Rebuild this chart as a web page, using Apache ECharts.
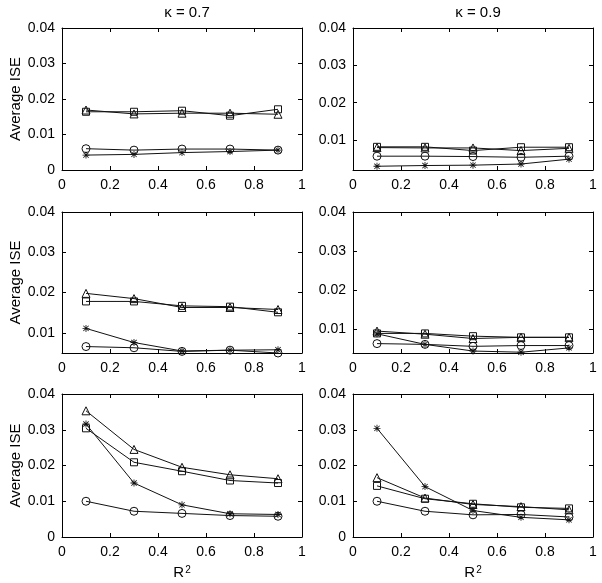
<!DOCTYPE html>
<html>
<head>
<meta charset="utf-8">
<script src="https://cdn.jsdelivr.net/npm/echarts@6/dist/echarts.min.js"></script>
<style>html,body{margin:0;padding:0;background:#fff}#c{width:602px;height:583px}</style>
</head>
<body>
<div id="c"></div>
<script>
// ---- data ----
const r2 = [0.1, 0.3, 0.5, 0.7, 0.9];
const xTicks = [0, 0.2, 0.4, 0.6, 0.8, 1];
const yTicksFull = [0, 0.01, 0.02, 0.03, 0.04];
const yTicksUpper = [0.01, 0.02, 0.03, 0.04];
const titles = ['\u03ba = 0.7', '\u03ba = 0.9'];

// row 1, kappa 0.7
const p1_triangle = [0.0169, 0.0158, 0.0160, 0.0160, 0.0157];
const p1_square   = [0.0164, 0.0164, 0.0167, 0.0153, 0.0171];
const p1_circle   = [0.0060, 0.0056, 0.0059, 0.0059, 0.0056];
const p1_star     = [0.0042, 0.0044, 0.0049, 0.0052, 0.0056];
// row 1, kappa 0.9
const p2_triangle = [0.0080, 0.0079, 0.0079, 0.0072, 0.0078];
const p2_square   = [0.0082, 0.0082, 0.0072, 0.0081, 0.0081];
const p2_circle   = [0.0057, 0.0057, 0.0056, 0.0054, 0.0057];
const p2_star     = [0.0030, 0.0032, 0.0033, 0.0036, 0.0049];
// row 2, kappa 0.7
const p3_triangle = [0.0198, 0.0185, 0.0163, 0.0163, 0.0158];
const p3_square   = [0.0178, 0.0178, 0.0167, 0.0165, 0.0151];
const p3_circle   = [0.0066, 0.0063, 0.0054, 0.0057, 0.0050];
const p3_star     = [0.0111, 0.0076, 0.0055, 0.0057, 0.0058];
// row 2, kappa 0.9
const p4_triangle = [0.0096, 0.0088, 0.0077, 0.0080, 0.0080];
const p4_square   = [0.0090, 0.0090, 0.0083, 0.0080, 0.0080];
const p4_circle   = [0.0064, 0.0062, 0.0057, 0.0059, 0.0059];
const p4_star     = [0.0089, 0.0062, 0.0045, 0.0042, 0.0053];
// row 3, kappa 0.7
const p5_triangle = [0.0353, 0.0245, 0.0195, 0.0174, 0.0163];
const p5_square   = [0.0304, 0.0209, 0.0184, 0.0158, 0.0151];
const p5_circle   = [0.0100, 0.0072, 0.0066, 0.0060, 0.0058];
const p5_star     = [0.0316, 0.0151, 0.0090, 0.0065, 0.0063];
// row 3, kappa 0.9
const p6_triangle = [0.0166, 0.0109, 0.0091, 0.0085, 0.0076];
const p6_square   = [0.0143, 0.0107, 0.0093, 0.0083, 0.0080];
const p6_circle   = [0.0100, 0.0072, 0.0062, 0.0063, 0.0056];
const p6_star     = [0.0304, 0.0141, 0.0074, 0.0055, 0.0048];

const yMins = [0, 0.002, 0.005, 0.004, 0, 0];
const yMax = 0.04;

const panels = [
  [p1_triangle, p1_square, p1_circle, p1_star],
  [p2_triangle, p2_square, p2_circle, p2_star],
  [p3_triangle, p3_square, p3_circle, p3_star],
  [p4_triangle, p4_square, p4_circle, p4_star],
  [p5_triangle, p5_square, p5_circle, p5_star],
  [p6_triangle, p6_square, p6_circle, p6_star]
];

// ---- layout ----
const FONT = '"Liberation Sans", Arial, Helvetica, sans-serif';
const colLeft = [62, 353];
const rowTop = [28, 212, 394];
const rowH = [142, 141, 143];
const W = 240;

const starPath = 'path://M0 4.4L10 4.4L10 5.6L0 5.6Z M4.4 0L5.6 0L5.6 10L4.4 10Z M0.8 1.6L1.6 0.8L9.2 8.4L8.4 9.2Z M8.4 0.8L9.2 1.6L1.6 9.2L0.8 8.4Z';
const markers = [
  {symbol: 'triangle', size: 8, star: false},
  {symbol: 'rect', size: 7, star: false},
  {symbol: 'circle', size: 8, star: false},
  {symbol: starPath, size: 7, star: true}
];

const grid = [], xAxis = [], yAxis = [], series = [];
const lineCol = '#111';
const tickStyle = {show: true, inside: true, length: 4, lineStyle: {color: '#000', width: 1}};
const axisLine = {show: true, onZero: false, lineStyle: {color: '#000', width: 1}};

panels.forEach((p, i) => {
  const row = Math.floor(i / 2), col = i % 2;
  grid.push({left: colLeft[col], top: rowTop[row], width: W, height: rowH[row]});
  const yt = yMins[i] === 0 ? yTicksFull : yTicksUpper;
  // bottom x
  xAxis.push({
    type: 'value', gridIndex: i, position: 'bottom', min: 0, max: 1, interval: 0.2,
    axisLine: axisLine, axisTick: tickStyle, splitLine: {show: false},
    axisLabel: {show: true, margin: 8, color: '#000', fontSize: 14, fontFamily: FONT,
      formatter: v => (v === 0 ? '0' : (Math.abs(v - 1) < 1e-9 ? '1' : v.toFixed(1)))},
    name: row === 2 ? 'R{s|2}' : '', nameLocation: 'middle', nameGap: 28,
    nameTextStyle: {color: '#000', fontSize: 15, fontFamily: FONT,
      rich: {s: {fontSize: 10, fontFamily: FONT, color: '#000', verticalAlign: 'top', padding: [0, 0, 6, 1]}}}
  });
  // top x (mirror)
  xAxis.push({
    type: 'value', gridIndex: i, position: 'top', min: 0, max: 1, interval: 0.2,
    axisLine: axisLine, axisTick: tickStyle, splitLine: {show: false},
    axisLabel: {show: false}
  });
  // left y
  yAxis.push({
    type: 'value', gridIndex: i, position: 'left', min: yMins[i], max: yMax,
    axisLine: axisLine,
    axisTick: Object.assign({}, tickStyle, {customValues: yt}),
    splitLine: {show: false},
    axisLabel: {show: true, customValues: yt, margin: 7, color: '#000', fontSize: 14, fontFamily: FONT,
      formatter: v => (v === 0 ? '0' : v.toFixed(2))},
    name: col === 0 ? 'Average ISE' : '', nameLocation: 'middle', nameGap: 31, nameRotate: 90,
    nameTextStyle: {color: '#000', fontSize: 15, fontFamily: FONT}
  });
  // right y (mirror)
  yAxis.push({
    type: 'value', gridIndex: i, position: 'right', min: yMins[i], max: yMax,
    axisLine: axisLine,
    axisTick: Object.assign({}, tickStyle, {customValues: yt}),
    splitLine: {show: false},
    axisLabel: {show: false}
  });
  p.forEach((vals, k) => {
    const m = markers[k];
    series.push({
      type: 'line', xAxisIndex: 2 * i, yAxisIndex: 2 * i,
      data: r2.map((x, j) => [x, vals[j]]),
      symbol: m.symbol, symbolSize: m.size, showSymbol: true,
      lineStyle: {color: lineCol, width: 1},
      itemStyle: m.star
        ? {color: '#111', borderWidth: 0}
        : {color: 'rgba(255,255,255,0)', borderColor: '#111', borderWidth: 1},
      emphasis: {disabled: true},
      animation: false, z: 3 + k
    });
  });
});

const chart = echarts.init(document.getElementById('c'), null, {renderer: 'canvas'});
chart.setOption({
  backgroundColor: '#fff',
  animation: false,
  title: [
    {text: titles[0], left: colLeft[0] + W / 2, top: 0, textAlign: 'center',
      textStyle: {color: '#000', fontSize: 15, fontWeight: 'normal', fontFamily: FONT}},
    {text: titles[1], left: colLeft[1] + W / 2, top: 0, textAlign: 'center',
      textStyle: {color: '#000', fontSize: 15, fontWeight: 'normal', fontFamily: FONT}}
  ],
  grid: grid, xAxis: xAxis, yAxis: yAxis, series: series
});
</script>
</body>
</html>
